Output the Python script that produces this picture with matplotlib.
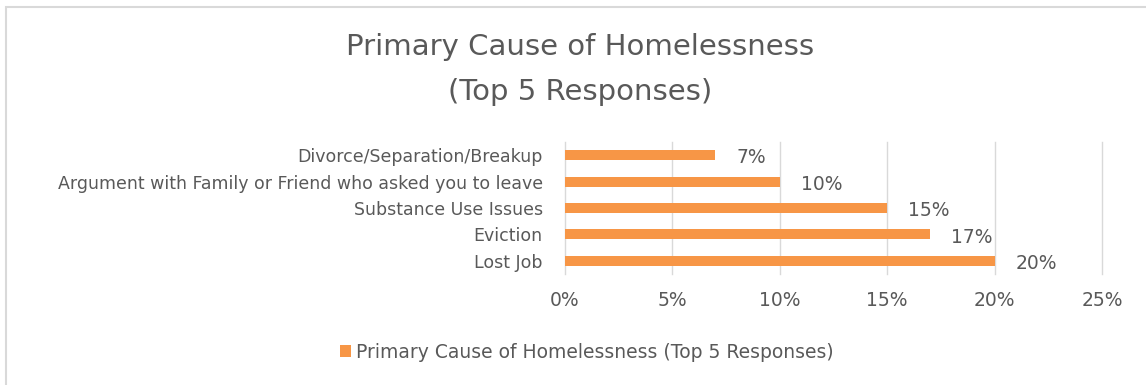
import matplotlib.pyplot as plt
from matplotlib.patches import Rectangle
from matplotlib.ticker import PercentFormatter

causes = ["Lost Job", "Eviction", "Substance Use Issues",
          "Argument with Family or Friend who asked you to leave",
          "Divorce/Separation/Breakup"]
shares = [20, 17, 15, 10, 7]
ticks = [0, 5, 10, 15, 20, 25]

series_name = "Primary Cause of Homelessness (Top 5 Responses)"
bar_color = "#F79646"
text_color = "#595959"

plt.rcParams['font.family'] = ['DejaVu Sans']

fig = plt.figure(figsize=(11.46, 3.85), dpi=100)
# chart border (only top and left edges fall inside the image)
fig.patches.append(Rectangle((6 / 1146, -0.1), 1.2, 1 - 7 / 385 + 0.1,
                             transform=fig.transFigure, fill=False,
                             edgecolor="#D9D9D9", linewidth=1.5))

ax = fig.add_axes([565 / 1146, 1 - 274 / 385, (1102 - 565) / 1146, 132 / 385])
bars = ax.barh(range(len(causes)), shares, height=0.38, color=bar_color,
               label=series_name)
ax.set_ylim(-0.5, len(causes) - 0.5)
ax.set_xlim(0, 25)
ax.set_xticks(ticks)
ax.xaxis.set_major_formatter(PercentFormatter(decimals=0))
ax.set_yticks(range(len(causes)))
ax.set_yticklabels(causes)
ax.tick_params(axis='y', length=0, pad=16, labelsize=12.5, labelcolor=text_color)
ax.tick_params(axis='x', length=0, pad=12, labelsize=13.5, labelcolor=text_color)
ax.grid(axis='x', color="#D9D9D9", linewidth=1)
for g in ax.get_xgridlines():
    g.set_clip_on(False)
ax.set_axisbelow(True)
for s in ax.spines.values():
    s.set_visible(False)

for b, v in zip(bars, shares):
    ax.annotate(f"{v}%", xy=(b.get_width(), b.get_y() + b.get_height() / 2),
                xytext=(15, -2), textcoords='offset points', va='center',
                ha='left', fontsize=13.5, color=text_color)

fig.text(0.506, 1 - 47 / 385, "Primary Cause of Homelessness",
         ha='center', va='center', fontsize=21, color=text_color)
fig.text(0.506, 1 - 92 / 385, "(Top 5 Responses)",
         ha='center', va='center', fontsize=21, color=text_color)

fig.legend(handles=[bars], labels=[series_name], loc='center',
           bbox_to_anchor=(0.512, 1 - 352 / 385), frameon=False, fontsize=13.5,
           handlelength=0.6, handleheight=0.6, handletextpad=0.3,
           labelcolor=text_color)

fig.savefig("out.png", dpi=100)
